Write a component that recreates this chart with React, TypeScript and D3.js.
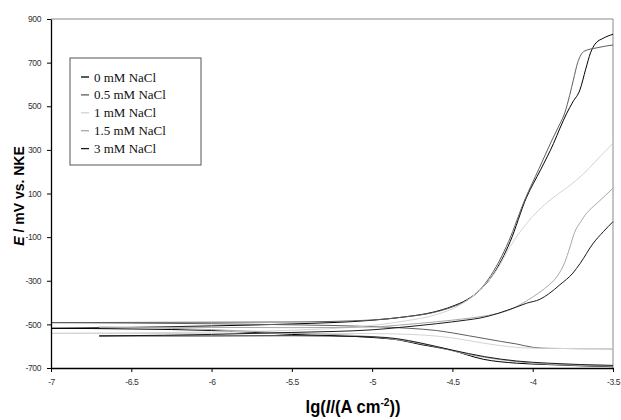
import React, { useEffect, useRef } from 'react'
import * as d3 from 'd3'

// legend labels and line colours, one per NaCl concentration
const seriesNames = ['0 mM NaCl', '0.5 mM NaCl', '1 mM NaCl', '1.5 mM NaCl', '3 mM NaCl']
const seriesColors = ['#000000', '#5e5e5e', '#d4d4d4', '#a8a8a8', '#1a1a1a']

// [lg(I), E/mV] anodic branches
const anodic0 = [[-7, -518], [-6.5, -514], [-6, -507], [-5.5, -498], [-5, -481], [-4.8, -466], [-4.62, -444], [-4.5, -417], [-4.41, -387], [-4.33, -344], [-4.245, -270], [-4.14, -120], [-4.04, 80], [-3.95, 210], [-3.87, 330], [-3.83, 400], [-3.79, 465], [-3.75, 520], [-3.706, 575], [-3.67, 670], [-3.64, 745], [-3.612, 785], [-3.56, 812], [-3.5, 830]]
const anodic05 = [[-7, -492], [-6.5, -491], [-6, -490], [-5.5, -489], [-5, -480], [-4.8, -466], [-4.62, -446], [-4.5, -420], [-4.41, -390], [-4.34, -350], [-4.26, -275], [-4.15, -120], [-4.05, 70], [-3.96, 215], [-3.88, 345], [-3.83, 420], [-3.8, 470], [-3.77, 550], [-3.747, 620], [-3.72, 700], [-3.7, 735], [-3.68, 752], [-3.6, 768], [-3.5, 781]]
const anodic1 = [[-7, -541], [-6.5, -539], [-6, -535], [-5.5, -527], [-5, -505], [-4.8, -485], [-4.6, -455], [-4.45, -410], [-4.3, -320], [-4.224, -251], [-4.141, -144], [-4.038, -37], [-3.892, 70], [-3.8, 120], [-3.726, 162], [-3.65, 215], [-3.58, 270], [-3.5, 330]]
const anodic15 = [[-6.7, -513], [-6.3, -513], [-6, -514], [-5.5, -515], [-5, -512], [-4.827, -503], [-4.6, -488], [-4.41, -473], [-4.328, -465], [-4.121, -426], [-4.038, -392], [-3.955, -352], [-3.9, -320], [-3.85, -282], [-3.8, -215], [-3.77, -150], [-3.74, -80], [-3.7, -28], [-3.665, 9], [-3.6, 55], [-3.5, 124]]
const anodic3 = [[-6.7, -553], [-6.3, -550], [-6, -546], [-5.5, -537], [-5, -525], [-4.827, -514], [-4.6, -497], [-4.411, -480], [-4.328, -471], [-4.1, -420], [-4.038, -403], [-3.955, -385], [-3.9, -360], [-3.83, -318], [-3.75, -265], [-3.706, -222], [-3.623, -128], [-3.56, -75], [-3.5, -29]]

// [lg(I), E/mV] cathodic branches
const cathodic0 = [[-7, -518], [-6.5, -521], [-6, -528], [-5.5, -546], [-5, -560], [-4.83, -572], [-4.7, -592], [-4.515, -617], [-4.308, -660], [-4.1, -678], [-3.913, -684], [-3.7, -690], [-3.5, -694]]
const cathodic05 = [[-7, -492], [-6.5, -494], [-6, -497], [-5.5, -502], [-5, -510], [-4.77, -518], [-4.6, -528], [-4.4, -552], [-4.2, -578], [-4.1, -590], [-4, -605], [-3.9, -610], [-3.5, -612]]
const cathodic1 = [[-7, -541], [-6.5, -542], [-6, -541], [-5.5, -541], [-5, -542], [-4.7, -548], [-4.5, -562], [-4.308, -586], [-4.15, -602], [-4, -609], [-3.7, -611], [-3.5, -611]]
const cathodic15 = [[-6.7, -513], [-6.3, -517], [-6, -524], [-5.5, -540], [-5, -556], [-4.8, -574], [-4.6, -603], [-4.4, -638], [-4.2, -662], [-4, -678], [-3.75, -687], [-3.5, -692]]
const cathodic3 = [[-6.7, -553], [-6.3, -553], [-6, -553], [-5.5, -552], [-5, -557], [-4.85, -565], [-4.7, -585], [-4.5, -618], [-4.3, -648], [-4.1, -668], [-3.9, -678], [-3.5, -688]]

const branches = [
  [anodic0, cathodic0],
  [anodic05, cathodic05],
  [anodic1, cathodic1],
  [anodic15, cathodic15],
  [anodic3, cathodic3],
]

const xTicks = [-7, -6.5, -6, -5.5, -5, -4.5, -4, -3.5]
const yTicks = [-700, -500, -300, -100, 100, 300, 500, 700, 900]

const width = 621
const height = 420
const margin = { top: 19, right: 8, bottom: 52, left: 51 }
const sans = '"Liberation Sans Narrow", "Liberation Sans", Arial, sans-serif'

export default function App() {
  const ref = useRef<SVGSVGElement>(null)

  useEffect(() => {
    document.body.style.margin = '0'
    const svg = d3.select(ref.current)
    svg.selectAll('*').remove()

    const innerWidth = width - margin.left - margin.right
    const innerHeight = height - margin.top - margin.bottom

    const x = d3.scaleLinear().domain([-7, -3.5]).range([0, innerWidth])
    const y = d3.scaleLinear().domain([-700, 900]).range([innerHeight, 0])

    const g = svg.append('g').attr('transform', `translate(${margin.left},${margin.top})`)

    // plot frame (top + right are grey)
    g.append('line').attr('x1', 0).attr('x2', innerWidth).attr('y1', 0).attr('y2', 0)
      .attr('stroke', '#8a8a8a').attr('stroke-width', 1)
    g.append('line').attr('x1', innerWidth).attr('x2', innerWidth).attr('y1', 0).attr('y2', innerHeight)
      .attr('stroke', '#8a8a8a').attr('stroke-width', 1)

    const line = d3.line<number[]>()
      .x(d => x(d[0]))
      .y(d => y(d[1]))
      .curve(d3.curveMonotoneX)

    branches.forEach((pair, i) => {
      pair.forEach(b => {
        g.append('path')
          .datum(b)
          .attr('fill', 'none')
          .attr('stroke', seriesColors[i])
          .attr('stroke-width', 1)
          .attr('d', line)
      })
    })

    const xAxis = g.append('g')
      .attr('transform', `translate(0,${innerHeight})`)
      .call(d3.axisBottom(x).tickValues(xTicks).tickSize(4).tickSizeOuter(0).tickFormat(d => String(d)))
    const yAxis = g.append('g')
      .call(d3.axisLeft(y).tickValues(yTicks).tickSize(4).tickSizeOuter(0).tickFormat(d => String(d)))

    ;[xAxis, yAxis].forEach(a => {
      a.select('.domain').attr('stroke', '#000').attr('stroke-width', 1.3)
      a.selectAll('.tick line').attr('stroke', '#000')
      a.selectAll('.tick text')
        .attr('fill', '#333')
        .style('font-family', sans)
        .style('font-size', '8.5px')
        .style('letter-spacing', '-0.4px')
    })
    xAxis.selectAll('.tick text').attr('dy', '1.2em')
    yAxis.selectAll('.tick text').attr('x', -10)

    // axis titles
    svg.append('text')
      .attr('transform', 'translate(353,413) scale(0.92,1)')
      .attr('text-anchor', 'middle')
      .style('font-family', sans)
      .style('font-weight', 'bold')
      .style('font-size', '18px')
      .html('lg(<tspan font-style="italic">I</tspan>/(A cm<tspan dy="-7" font-size="11px">-2</tspan><tspan dy="7">))</tspan>')

    svg.append('text')
      .attr('transform', 'translate(24,196) rotate(-90)')
      .attr('text-anchor', 'middle')
      .style('font-family', sans)
      .style('font-weight', 'bold')
      .style('font-size', '14px')
      .html('<tspan font-style="italic">E</tspan>  / mV vs. NKE')

    // legend
    const legend = svg.append('g').attr('transform', 'translate(70,58)')
    legend.append('rect')
      .attr('width', 131).attr('height', 107)
      .attr('fill', '#fff').attr('stroke', '#555').attr('stroke-width', 1)
    seriesNames.forEach((name, i) => {
      const ly = 19 + i * 17.9
      legend.append('line')
        .attr('x1', 11).attr('x2', 19).attr('y1', ly).attr('y2', ly)
        .attr('stroke', seriesColors[i]).attr('stroke-width', 1.3)
      legend.append('text')
        .attr('x', 24).attr('y', ly + 4.5)
        .style('font-family', '"Liberation Serif", "Times New Roman", serif')
        .style('font-size', '13px')
        .attr('fill', '#111')
        .text(name)
    })
  }, [])

  return (
    <div>
      <svg ref={ref} width={width} height={height} style={{ display: 'block', background: '#fff' }}></svg>
    </div>
  )
}
